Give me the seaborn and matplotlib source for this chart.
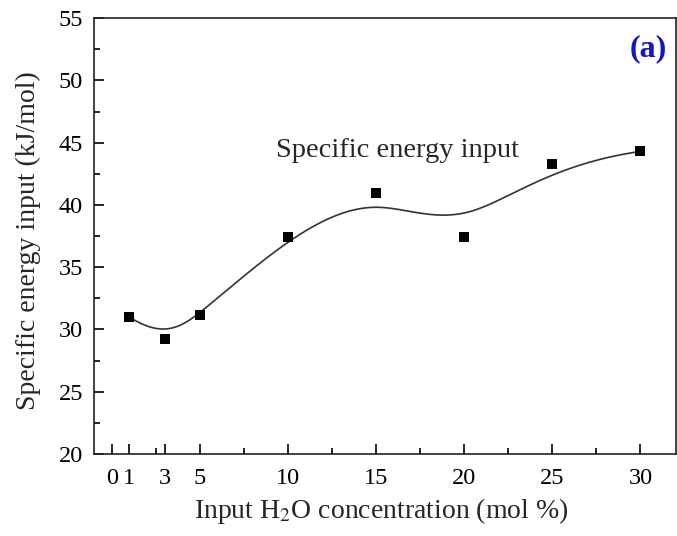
import numpy as np
import pandas as pd
import matplotlib
matplotlib.use("Agg")
import matplotlib.pyplot as plt
import seaborn as sns

# values
h2o_conc = [1, 3, 5, 10, 15, 20, 25, 30]
energy_input = [31.0, 29.2, 31.2, 37.45, 41.0, 37.45, 43.3, 44.3]

x_major = [0, 1, 3, 5, 10, 15, 20, 25, 30]
x_minor = [2.5, 7.5, 12.5, 17.5, 22.5, 27.5]
y_major = [20, 25, 30, 35, 40, 45, 50, 55]
y_minor = [22.5, 27.5, 32.5, 37.5, 42.5, 47.5, 52.5]


def bspline_curve(px, py, n=400, k=3):
    """Clamped cubic B-spline using the data points as control points
    (the 'B-Spline' connect style of the original plot)."""
    ctrl = np.column_stack([px, py]).astype(float)
    m = len(ctrl)
    inner = np.linspace(0, 1, m - k + 1)
    knots = np.concatenate([np.zeros(k), inner, np.ones(k)])
    t = np.linspace(0, 1, n)
    t[-1] -= 1e-12
    # Cox-de Boor recursion
    B = np.zeros((n, len(knots) - 1))
    for i in range(len(knots) - 1):
        B[:, i] = (knots[i] <= t) & (t < knots[i + 1])
    for d in range(1, k + 1):
        nb = np.zeros((n, len(knots) - 1 - d))
        for i in range(len(knots) - 1 - d):
            a = knots[i + d] - knots[i]
            b = knots[i + d + 1] - knots[i + 1]
            left = (t - knots[i]) / a * B[:, i] if a > 0 else 0
            right = (knots[i + d + 1] - t) / b * B[:, i + 1] if b > 0 else 0
            nb[:, i] = left + right
        B = nb
    pts = B @ ctrl
    return pts[:, 0], pts[:, 1]


sns.set_style("ticks")
plt.rcParams["font.family"] = ["Liberation Serif", "DejaVu Serif"]
plt.rcParams["mathtext.fontset"] = "stix"

df = pd.DataFrame({"conc": h2o_conc, "energy": energy_input})
cx, cy = bspline_curve(df["conc"], df["energy"])
curve = pd.DataFrame({"conc": cx, "energy": cy})

fig, ax = plt.subplots(figsize=(6.77, 5.36), dpi=100)
fig.subplots_adjust(left=0.139, right=0.998, top=0.966, bottom=0.153)

sns.lineplot(data=curve, x="conc", y="energy", ax=ax, color="#333333",
             linewidth=1.2, sort=False, estimator=None)
sns.scatterplot(data=df, x="conc", y="energy", ax=ax, marker="s", s=60,
                color="black", edgecolor="black", linewidth=0, zorder=3)

ax.set_xlim(-1, 32)
ax.set_ylim(20, 55)
ax.set_xticks(x_major)
ax.set_xticks(x_minor, minor=True)
ax.set_yticks(y_major)
ax.set_yticks(y_minor, minor=True)
ax.tick_params(which="both", direction="in", top=False, right=False,
               labelsize=17.5, width=1.2, colors="black")
ax.tick_params(which="major", length=7)
ax.tick_params(axis="x", which="both", pad=10)
ax.tick_params(axis="y", which="both", pad=8)
ax.tick_params(which="minor", length=4)
for s in ax.spines.values():
    s.set_linewidth(1.2)
    s.set_color("#222222")

ax.set_xlabel("Input H$_2$O concentration (mol %)", fontsize=20, va="center")
ax.set_ylabel("Specific energy input (kJ/mol)", fontsize=20, va="center")
ax.xaxis.set_label_coords(0.494, -0.131)
ax.yaxis.set_label_coords(-0.113, 0.49)

ax.text(9.35, 44.4, "Specific energy input", fontsize=20.5, va="center", ha="left")
ax.text(0.985, 0.93, "(a)", transform=ax.transAxes, fontsize=23,
        fontweight="bold", color="#1414c8", ha="right", va="center")

fig.savefig("out.png", dpi=100)
